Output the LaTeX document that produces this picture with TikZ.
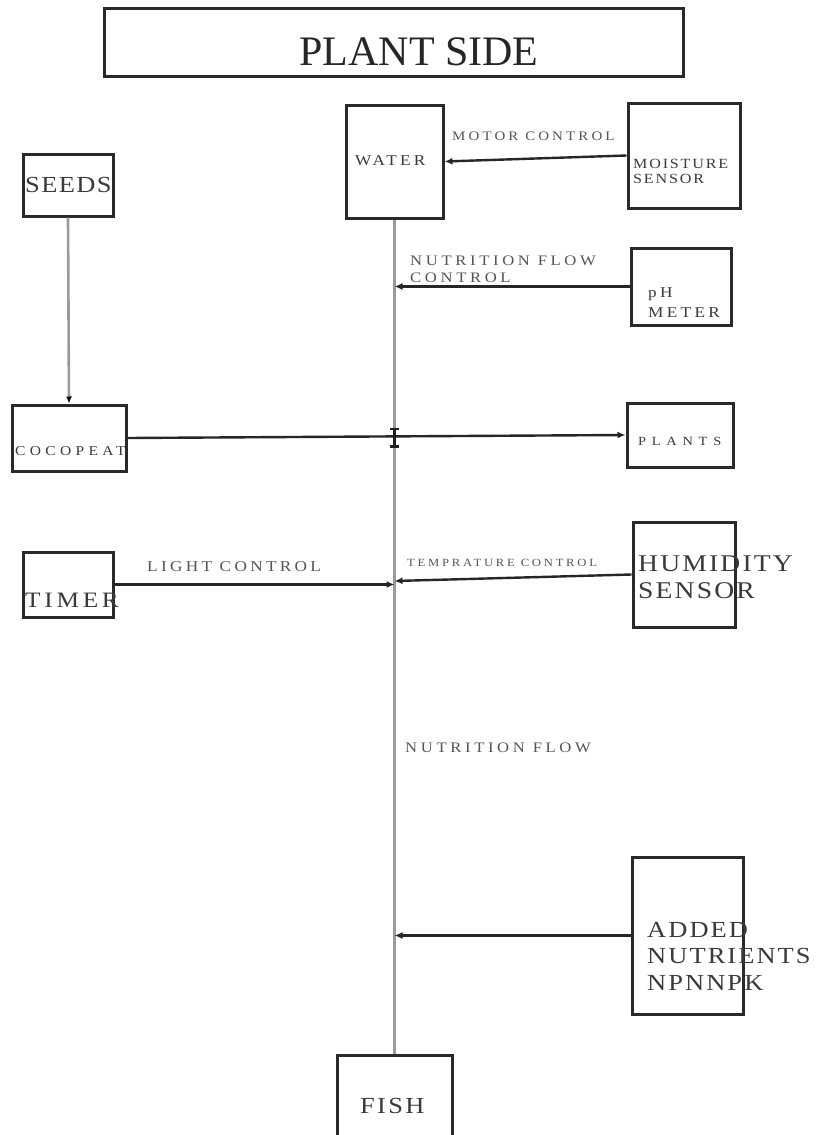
\documentclass[tikz,border=0pt]{standalone}
\usepackage{fontspec}
\setmainfont{Liberation Serif}
\usetikzlibrary{arrows.meta}
\newcommand{\spc}[4]{{\fontsize{#1}{#1}\selectfont\addfontfeatures{FakeStretch=#2,LetterSpace=#3}#4}}
\definecolor{boxline}{HTML}{2A2A2A}
\definecolor{btext}{HTML}{3A3A3A}
\definecolor{ltext}{HTML}{555555}
\definecolor{flow}{HTML}{9A9A9A}
\tikzset{
  box/.style={draw=boxline, line width=3pt, fill=none, inner sep=0pt},
  arr/.style={draw=black!85, line width=2.4pt, -{Latex[length=8pt,width=7pt]}},
  flowline/.style={draw=flow, line width=2.6pt},
  btxt/.style={anchor=base west, inner sep=0pt, text=btext},
  ltxt/.style={anchor=base west, inner sep=0pt, text=ltext},
}
\begin{document}
\begin{tikzpicture}[x=1pt,y=-1pt]
\useasboundingbox (0,0) rectangle (818,1135);
\fill[white] (0,0) rectangle (818,1135);

% boxes
\node[box, minimum width=579pt, minimum height=68pt] (title) at (393.5,42) {};
\node[box, minimum width=97pt, minimum height=113pt] (water) at (394.5,161.5) {};
\node[box, minimum width=112pt, minimum height=105pt] (moist) at (684,155.5) {};
\node[box, minimum width=90pt, minimum height=62pt] (seeds) at (68,185) {};
\node[box, minimum width=100pt, minimum height=77pt] (ph) at (681,286.5) {};
\node[box, minimum width=114pt, minimum height=66pt] (coco) at (69,438) {};
\node[box, minimum width=106pt, minimum height=64pt] (plants) at (680,435) {};
\node[box, minimum width=90pt, minimum height=65pt] (timer) at (68,584.5) {};
\node[box, minimum width=102pt, minimum height=105pt] (hum) at (684,574.5) {};
\node[box, minimum width=111pt, minimum height=157pt] (added) at (687.5,935.5) {};
\node[box, minimum width=115pt, minimum height=100pt] (fish) at (394.5,1105) {};

% box texts
\node[anchor=base, inner sep=0pt, text=black!85] (titletxt) at (419,65) {\spc{42}{1.0}{0}{PLANT SIDE}};
\node[btxt] (watertxt) at (355,165) {\spc{15}{1.15}{21}{WATER}};
\node[btxt] (moisttxt1) at (633,168) {\spc{14}{1.15}{13}{MOISTURE}};
\node[btxt] (moisttxt2) at (633,183) {\spc{14}{1.15}{13}{SENSOR}};
\node[btxt] (seedstxt) at (25,192) {\spc{23}{1.15}{6}{SEEDS}};
\node[btxt] (phtxt1) at (648,297) {\spc{15}{1.15}{22}{pH}};
\node[btxt] (phtxt2) at (648,317) {\spc{15}{1.15}{22}{METER}};
\node[btxt] (cocotxt) at (15,455) {\spc{13.5}{1.15}{32}{COCOPEAT}};
\node[btxt] (plantstxt) at (638,445) {\spc{12.5}{1.15}{46}{PLANTS}};
\node[btxt] (timertxt) at (25,607) {\spc{22}{1.15}{17}{TIMER}};
\node[btxt] (humtxt1) at (638,571) {\spc{24}{1.15}{9}{HUMIDITY}};
\node[btxt] (humtxt2) at (638,598) {\spc{24}{1.15}{9}{SENSOR}};
\node[btxt] (addtxt1) at (647,937) {\spc{23}{1.15}{9}{ADDED}};
\node[btxt] (addtxt2) at (647,963) {\spc{23}{1.15}{9}{NUTRIENTS}};
\node[btxt] (addtxt3) at (647,990) {\spc{23}{1.15}{9}{NPNNPK}};
\node[btxt] (fishtxt) at (360,1113) {\spc{23}{1.15}{10}{FISH}};

% connector labels
\node[ltxt] (motorlbl) at (452,140) {\spc{13}{1.15}{24}{MOTOR CONTROL}};
\node[ltxt] (nfc1) at (410,265) {\spc{14.5}{1.15}{25}{NUTRITION FLOW}};
\node[ltxt] (nfc2) at (410,282) {\spc{14.5}{1.15}{25}{CONTROL}};
\node[ltxt] (lightlbl) at (147,571) {\spc{15}{1.15}{22}{LIGHT CONTROL}};
\node[ltxt] (templbl) at (407,566) {\spc{11}{1.15}{25}{TEMPRATURE CONTROL}};
\node[ltxt] (nflbl) at (405,752) {\spc{14.5}{1.15}{25}{NUTRITION FLOW}};

% main flow line
\draw[flowline] (water.south) -- (fish.north);
\coordinate (cross) at (394.5,437.5);
\coordinate (hitemp) at (394.5,581);

% connectors
\draw[arr] (moist.west) -- (water.east);
\draw[arr] (ph.west) -- (water.south |- ph.west);
\draw[flowline, -{Latex[length=7pt,width=6pt,color=black]}] (seeds.south) -- (coco.north);
\draw[arr] (coco.east) -- (plants.west);
\draw[draw=black!88, line width=2.8pt, {Bar[width=9pt]}-{Bar[width=9pt]}] ([yshift=10pt]cross) -- ([yshift=-10pt]cross);
\draw[arr] (timer.east) -- (water.south |- timer.east);
\draw[arr] (hum.west) -- (hitemp);
\draw[arr] (added.west) -- (water.south |- added.west);
\end{tikzpicture}
\end{document}
